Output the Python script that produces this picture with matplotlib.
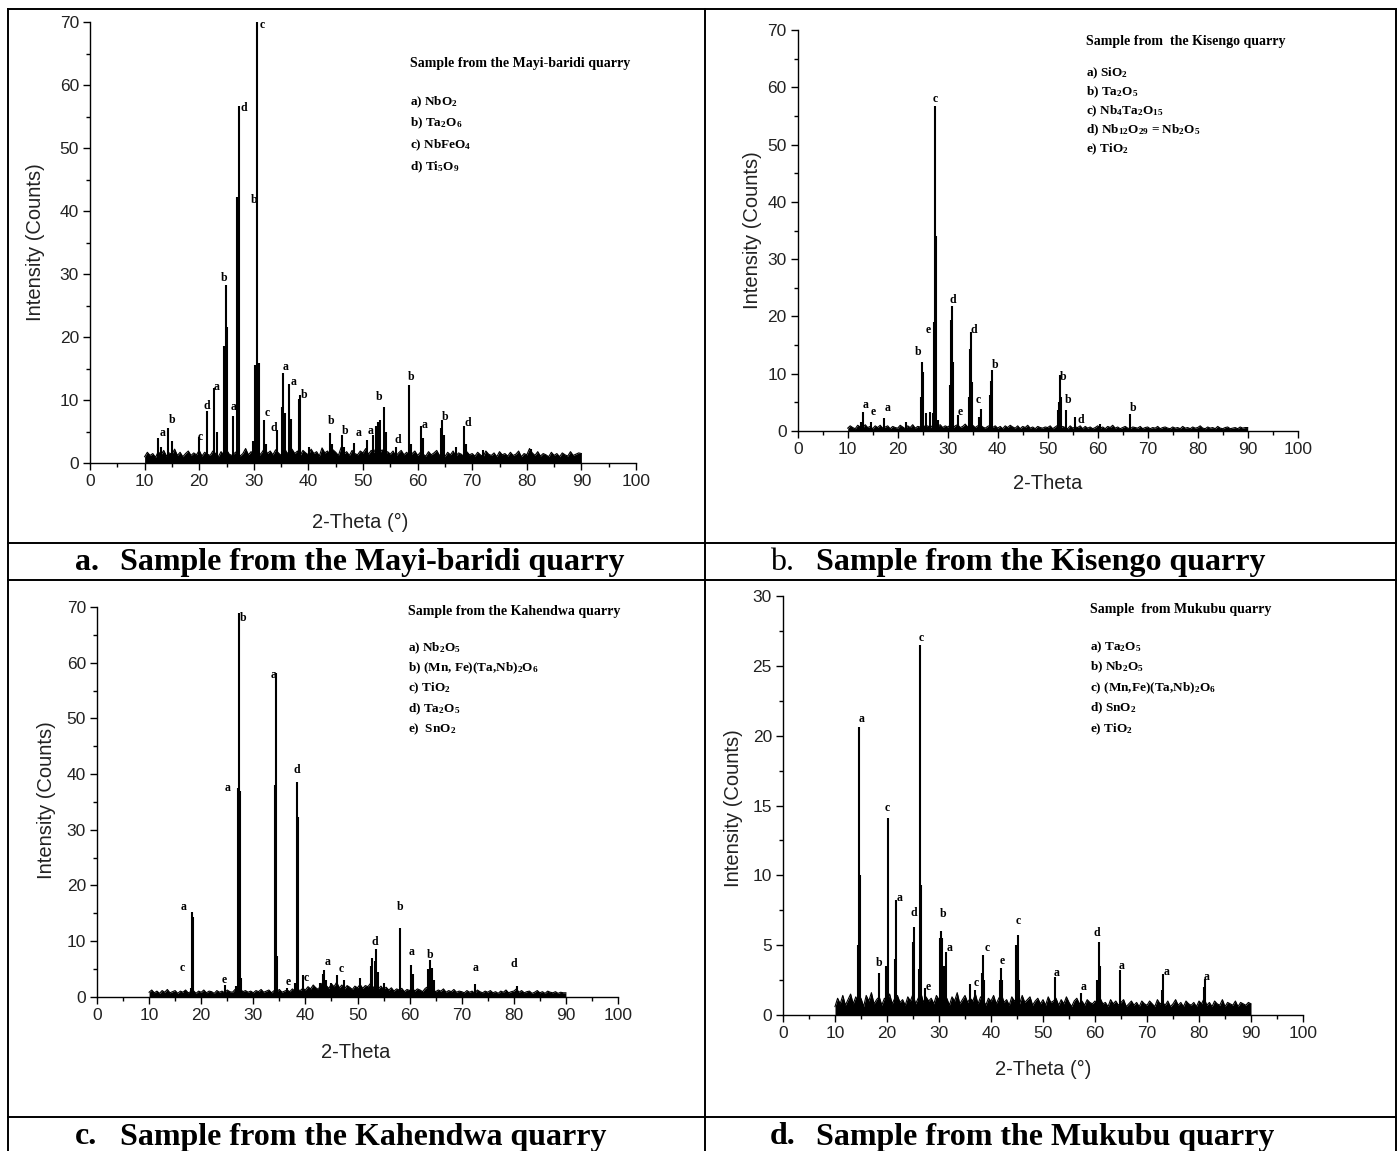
import matplotlib
matplotlib.use("Agg")
import matplotlib.pyplot as plt
from matplotlib.lines import Line2D
from matplotlib.ticker import MultipleLocator
import numpy as np

plt.rcParams['font.family'] = ['Liberation Sans', 'DejaVu Sans']
plt.rcParams['mathtext.fontset'] = 'custom'
plt.rcParams['mathtext.rm'] = 'Liberation Serif:bold'
plt.rcParams['mathtext.it'] = 'Liberation Serif:bold'
plt.rcParams['mathtext.bf'] = 'Liberation Serif:bold'

W, H = 1399, 1151

# ---------------- data ----------------
theta_bg = np.arange(10, 90.5, 0.5)   # background read every half degree, 10..90

# a. Mayi-baridi
bg_a = [1.0, 1.7, 1.2, 1.5, 0.9, 1.8, 1.3, 2.0, 1.1, 1.6, 1.4, 2.2, 1.2, 1.7, 1.0, 1.5, 1.9, 1.2, 1.6, 1.3,
        2.0, 1.1, 1.7, 1.4, 1.2, 1.9, 1.5, 1.0, 1.8, 1.3, 2.1, 1.4, 1.2, 1.6, 1.9, 1.1, 1.5, 2.3, 1.3, 1.8,
        1.4, 2.0, 1.2, 1.7, 2.4, 1.5, 1.9, 1.3, 2.1, 1.6, 1.2, 2.6, 1.7, 1.4, 2.2, 1.5, 1.9, 1.2, 2.0, 1.6,
        1.3, 2.2, 1.5, 1.8, 1.1, 2.4, 1.6, 1.9, 1.3, 2.1, 1.7, 1.2, 2.5, 1.4, 1.8, 1.2, 2.0, 1.5, 1.3, 1.9,
        1.6, 2.3, 1.4, 2.0, 1.7, 2.6, 1.5, 2.1, 1.2, 1.8, 1.4, 1.9, 1.1, 1.6, 2.0, 1.3, 1.7, 1.2, 1.5, 1.9,
        1.2, 1.7, 1.4, 1.1, 1.8, 1.3, 1.6, 2.0, 1.2, 1.5, 1.0, 1.7, 1.3, 1.9, 1.1, 1.6, 1.4, 1.0, 1.8, 1.3,
        1.5, 1.1, 1.7, 1.3, 1.0, 1.9, 1.4, 1.2, 1.6, 1.0, 1.8, 1.3, 1.5, 1.1, 1.7, 1.2, 1.4, 1.9, 1.0, 1.5,
        1.3, 2.3, 1.6, 1.2, 1.8, 1.1, 1.5, 1.3, 1.0, 1.7, 1.2, 1.5, 1.0, 1.6, 1.3, 1.1, 1.8, 1.2, 1.4, 1.6,
        1.5]
pk_a_x = [12.5, 13.0, 14.3, 15.1, 19.9, 21.4, 22.8, 23.2, 24.5, 24.9, 25.1, 26.2,
          27.0, 27.3, 29.9, 30.3, 30.5, 30.9, 31.8, 32.2, 34.3, 35.2, 35.4, 35.7,
          36.5, 36.8, 38.2, 38.4, 40.2, 43.9, 44.3, 46.2, 46.6, 48.3, 50.8, 51.8,
          52.3, 52.8, 53.2, 53.9, 54.3, 56.0, 58.5, 58.8, 60.7, 61.0, 64.2, 64.4,
          64.8, 67.0, 68.5, 68.8, 72.0, 80.8]
pk_a_y = [4.0, 2.5, 5.5, 3.5, 4.2, 8.3, 11.9, 5.0, 18.5, 28.3, 21.6, 7.4,
          42.3, 56.7, 3.5, 15.6, 70.0, 15.9, 6.8, 3.0, 5.2, 8.9, 14.3, 8.0,
          12.6, 7.0, 10.2, 10.8, 2.5, 4.7, 3.0, 4.4, 2.6, 3.2, 3.7, 4.5,
          5.9, 6.5, 6.9, 8.9, 5.0, 2.6, 12.4, 3.0, 5.8, 4.0, 5.5, 6.8,
          4.5, 2.5, 5.8, 3.0, 2.0, 2.3]
lab_a_x = [13.3, 15.0, 20.2, 21.4, 23.2, 24.6, 26.3, 28.1, 30.0, 31.6, 32.4, 33.6,
           35.9, 37.3, 39.3, 44.2, 46.8, 49.1, 51.3, 53.0, 56.4, 58.8, 61.3, 65.1, 69.2]
lab_a_y = [4.7, 6.8, 4.2, 9.0, 12.1, 29.3, 8.9, 56.3, 41.7, 69.5, 7.9, 5.5,
           15.3, 12.9, 10.8, 6.6, 5.0, 4.7, 5.0, 10.5, 3.7, 13.7, 6.0, 7.3, 6.4]
lab_a_t = list("abcdabadbccdaabbbaabdbabd")

# b. Kisengo
bg_b = [0.5, 0.9, 0.6, 0.4, 1.0, 0.7, 0.5, 1.1, 0.6, 0.8, 0.4, 0.9, 0.6, 1.0, 0.5, 0.7, 0.9, 0.4, 0.8, 0.6,
        0.5, 1.0, 0.7, 0.4, 0.9, 0.6, 1.1, 0.5, 0.8, 0.7, 1.2, 0.6, 0.9, 0.5, 1.0, 0.7, 0.8, 1.1, 0.6, 0.9,
        0.7, 1.0, 0.5, 0.9, 1.1, 0.6, 0.8, 1.2, 0.7, 0.5, 1.0, 0.6, 0.9, 1.1, 0.7, 0.5, 0.8, 1.0, 0.6, 0.9,
        0.5, 0.8, 0.4, 0.9, 0.6, 1.0, 0.7, 0.5, 0.9, 0.4, 0.8, 0.6, 1.0, 0.5, 0.7, 0.4, 0.8, 0.6, 0.5, 0.7,
        0.6, 0.9, 0.4, 0.7, 1.0, 0.5, 0.8, 0.6, 0.4, 0.9, 0.5, 0.7, 0.6, 0.9, 0.4, 0.8, 0.5, 0.7, 0.4, 0.6,
        0.9, 0.5, 0.7, 0.4, 0.8, 0.6, 1.0, 0.5, 0.7, 0.4, 0.6, 0.8, 0.5, 0.4, 0.7, 0.6, 0.5, 0.8, 0.4, 0.6,
        0.7, 0.4, 0.6, 0.5, 0.8, 0.4, 0.6, 0.7, 0.5, 0.4, 0.7, 0.5, 0.6, 0.4, 0.8, 0.5, 0.6, 0.4, 0.7, 0.5,
        0.6, 0.9, 0.5, 0.4, 0.7, 0.5, 0.6, 0.4, 0.8, 0.5, 0.4, 0.6, 0.7, 0.4, 0.5, 0.6, 0.4, 0.7, 0.5, 0.6,
        0.6]
pk_b_x = [12.6, 13.0, 14.7, 17.3, 21.6, 24.7, 24.9, 25.1, 25.6, 26.4, 27.0, 27.2,
          27.5, 27.7, 28.0, 30.4, 30.6, 30.8, 31.0, 32.0, 34.3, 34.5, 34.7, 34.9,
          36.3, 36.7, 38.4, 38.6, 38.8, 52.1, 52.3, 52.5, 52.7, 53.6, 55.5, 60.5, 66.5]
pk_b_y = [1.5, 3.4, 1.6, 2.2, 1.6, 6.0, 12.1, 10.3, 3.1, 3.4, 3.1, 19.0,
          56.8, 34.1, 2.0, 8.0, 19.3, 21.9, 12.1, 2.8, 6.0, 14.3, 17.3, 8.6,
          2.5, 3.9, 6.2, 8.8, 10.6, 3.6, 5.1, 9.8, 6.0, 3.7, 2.5, 1.2, 3.0]
lab_b_x = [13.5, 15.1, 17.9, 24.1, 26.0, 27.5, 31.1, 32.5, 35.3, 36.1, 39.5, 53.1, 54.1, 56.6, 67.1]
lab_b_y = [4.5, 3.4, 4.0, 13.8, 17.6, 57.9, 22.8, 3.4, 17.6, 5.4, 11.5, 9.5, 5.4, 1.9, 4.0]
lab_b_t = list("aeabecdedcbbbdb")

# c. Kahendwa
bg_c = [0.8, 1.2, 0.7, 1.0, 0.6, 1.1, 0.8, 1.3, 0.7, 0.9, 1.1, 0.6, 1.0, 0.8, 1.2, 0.7, 0.9, 1.1, 0.6, 1.0,
        0.8, 1.2, 0.7, 1.0, 0.9, 0.6, 1.1, 0.8, 1.0, 0.7, 1.2, 0.9, 0.8, 1.3, 1.0, 1.4, 0.9, 1.1, 0.8, 1.0,
        0.7, 1.1, 0.9, 1.3, 0.8, 1.0, 1.2, 0.7, 1.1, 0.9, 1.3, 0.8, 1.0, 1.2, 0.9, 1.4, 1.0, 1.3, 1.1, 1.5,
        1.2, 1.8, 1.4, 2.1, 1.6, 1.3, 2.4, 1.7, 2.0, 1.5, 2.3, 1.8, 2.6, 1.6, 2.1, 1.4, 2.0, 1.7, 1.3, 1.9,
        1.6, 2.2, 1.5, 2.0, 1.8, 2.4, 1.6, 2.1, 1.4, 1.9, 1.3, 1.7, 1.2, 1.6, 1.0, 1.4, 1.2, 1.5, 0.9, 1.3,
        1.1, 1.6, 1.0, 1.4, 1.2, 0.9, 1.5, 1.8, 1.1, 1.3, 0.9, 1.2, 1.0, 1.4, 0.8, 1.1, 0.9, 1.3, 0.8, 1.0,
        0.9, 0.7, 1.1, 0.8, 1.0, 0.6, 1.2, 0.9, 0.7, 1.0, 0.8, 1.1, 0.7, 0.9, 0.6, 1.0, 0.8, 1.2, 0.7, 0.9,
        1.0, 1.4, 0.8, 1.1, 0.7, 0.9, 1.0, 0.6, 0.8, 1.1, 0.7, 0.9, 0.6, 1.0, 0.8, 0.7, 0.9, 0.6, 0.8, 0.7,
        0.7]
pk_c_x = [16.8, 18.0, 18.2, 18.4, 24.6, 26.6, 27.0, 27.2, 27.4, 27.6, 34.2, 34.3,
          34.5, 36.4, 38.0, 38.4, 38.6, 39.6, 42.8, 43.4, 43.6, 44.0, 45.0, 46.0,
          47.4, 48.2, 50.5, 52.5, 52.8, 53.3, 53.6, 54.0, 55.0, 58.1, 60.3, 60.6,
          63.6, 63.9, 64.3, 64.7, 72.6, 80.6]
pk_c_y = [1.0, 1.5, 15.3, 14.3, 2.1, 2.0, 37.4, 68.9, 37.0, 3.3, 38.0, 58.1,
          7.4, 1.5, 2.5, 38.6, 32.3, 3.9, 2.5, 4.0, 4.8, 3.0, 2.5, 3.9,
          3.0, 2.0, 3.3, 5.5, 7.0, 6.5, 8.5, 4.5, 2.5, 12.3, 5.7, 4.0,
          5.0, 6.6, 5.2, 3.0, 2.3, 2.0]
lab_c_x = [16.3, 16.7, 24.4, 25.0, 28.0, 33.8, 36.7, 38.4, 40.2, 44.2, 46.8, 53.4,
           58.1, 60.3, 63.9, 72.7, 80.0]
lab_c_y = [5.1, 16.2, 3.0, 37.4, 68.0, 57.8, 2.7, 40.7, 3.3, 6.3, 5.0, 9.9,
           16.2, 8.1, 7.5, 5.1, 5.9]
lab_c_t = list("caeabaedcacdbabad")

# d. Mukubu
bg_d = [0.6, 1.2, 0.8, 1.4, 0.7, 1.1, 1.5, 0.8, 1.3, 0.9, 1.2, 0.6, 1.4, 1.0, 1.6, 0.8, 1.1, 1.3, 0.7, 1.2,
        1.0, 1.5, 0.8, 1.2, 1.4, 0.9, 1.1, 0.7, 1.3, 1.0, 1.5, 0.8, 1.2, 1.6, 0.9, 1.3, 1.0, 1.2, 0.8, 1.4,
        1.1, 1.5, 0.9, 1.2, 0.7, 1.3, 1.0, 1.6, 0.8, 1.1, 1.4, 0.9, 1.2, 1.0, 1.5, 0.8, 1.3, 1.1, 0.7, 1.2,
        1.0, 1.4, 0.8, 1.2, 1.5, 0.9, 1.1, 0.7, 1.3, 1.0, 1.2, 0.8, 1.4, 0.9, 1.1, 1.3, 0.7, 1.0, 1.2, 0.8,
        1.1, 0.7, 1.3, 0.9, 1.0, 1.2, 0.7, 1.1, 0.8, 1.3, 0.9, 0.6, 1.0, 1.2, 0.8, 1.0, 0.7, 1.1, 0.9, 0.8,
        1.0, 0.7, 1.2, 0.8, 0.9, 0.6, 1.1, 0.8, 1.0, 0.7, 0.9, 1.1, 0.6, 0.8, 1.0, 0.7, 0.9, 0.6, 1.0, 0.8,
        0.7, 1.0, 0.8, 0.6, 1.1, 0.8, 0.9, 0.7, 1.0, 0.6, 0.8, 1.1, 0.7, 0.9, 0.6, 1.0, 0.8, 0.7, 0.9, 0.6,
        1.0, 0.8, 1.2, 0.7, 0.9, 0.6, 1.0, 0.8, 0.7, 1.1, 0.6, 0.9, 0.8, 0.7, 1.0, 0.6, 0.9, 0.8, 0.7, 0.9,
        0.8]
pk_d_x = [14.5, 14.7, 14.9, 18.5, 19.9, 20.1, 21.5, 21.7, 25.0, 25.2, 26.2, 26.4,
          26.6, 27.3, 30.1, 30.3, 30.6, 30.9, 31.4, 35.9, 36.9, 38.3, 38.5, 38.7,
          41.8, 42.0, 42.2, 44.9, 45.1, 45.3, 52.3, 57.4, 60.4, 60.8, 61.0, 64.8,
          72.8, 73.1, 81.0, 81.2]
pk_d_y = [5.0, 20.6, 10.0, 3.0, 3.5, 14.1, 4.0, 8.2, 5.2, 6.3, 3.3, 26.5,
          9.3, 1.9, 5.5, 6.0, 5.5, 3.5, 4.5, 2.2, 1.8, 3.0, 4.3, 2.5,
          2.5, 3.4, 2.5, 5.0, 5.7, 2.5, 2.7, 1.6, 2.5, 5.2, 3.5, 3.2,
          1.8, 2.9, 2.0, 2.6]
lab_d_x = [15.1, 18.5, 20.1, 22.4, 25.1, 26.5, 27.9, 30.7, 32.1, 37.2, 39.2, 42.1,
           45.3, 52.7, 57.8, 60.3, 65.1, 73.8, 81.5]
lab_d_y = [21.2, 3.7, 14.8, 8.4, 7.3, 27.0, 2.0, 7.2, 4.8, 2.3, 4.8, 3.9,
           6.7, 3.0, 2.0, 5.9, 3.5, 3.1, 2.7]
lab_d_t = list("abcadcebacceca" + "adaaa")

titles = ["Sample from the Mayi-baridi quarry", "Sample from  the Kisengo quarry",
          "Sample from the Kahendwa quarry", "Sample  from Mukubu quarry"]
leg_a = ['a) NbO$_2$', 'b) Ta$_2$O$_6$', 'c) NbFeO$_4$', 'd) Ti$_5$O$_9$']
leg_b = ['a) SiO$_2$', 'b) Ta$_2$O$_5$', 'c) Nb$_4$Ta$_2$O$_{15}$',
         'd) Nb$_{12}$O$_{29}$ = Nb$_2$O$_5$', 'e) TiO$_2$']
leg_c = ['a) Nb$_2$O$_5$', 'b) (Mn, Fe)(Ta,Nb)$_2$O$_6$', 'c) TiO$_2$',
         'd) Ta$_2$O$_5$', 'e)  SnO$_2$']
leg_d = ['a) Ta$_2$O$_5$', 'b) Nb$_2$O$_5$', 'c) (Mn,Fe)(Ta,Nb)$_2$O$_6$',
         'd) SnO$_2$', 'e) TiO$_2$']
captions = [("a.", "Sample from the Mayi-baridi quarry"),
            ("b.", "Sample from the Kisengo quarry"),
            ("c.", "Sample from the Kahendwa quarry"),
            ("d.", "Sample from the Mukubu quarry")]

# ---------------- figure ----------------
fig = plt.figure(figsize=(W / 100, H / 100), dpi=100)


def axes_px(x0, x1, y0, y1):
    # x0/x1: pixel columns of x=0 and x=100, y0/y1: pixel rows of y=0 and y=top
    return fig.add_axes([x0 / W, 1 - y0 / H, (x1 - x0) / W, (y0 - y1) / H])


def draw_panel(ax, bg, px, py, lx, ly, lt, ymax, ystep, xlabel, ylab_pos, xlab_pos):
    ax.fill_between(theta_bg, 0, bg, color='black', lw=0)
    ax.plot(theta_bg, bg, color='black', lw=0.8)
    ax.vlines(px, 0, py, color='black', lw=1.5, clip_on=False)
    for x, y, t in zip(lx, ly, lt):
        ax.text(x, y, t, ha='center', va='center', fontsize=8.5,
                family='Liberation Serif', fontweight='bold')
    ax.set_xlim(0, 100)
    ax.set_ylim(0, ymax)
    ax.xaxis.set_major_locator(MultipleLocator(10))
    ax.xaxis.set_minor_locator(MultipleLocator(5))
    ax.yaxis.set_major_locator(MultipleLocator(ystep))
    ax.yaxis.set_minor_locator(MultipleLocator(ystep / 2))
    for s in ['top', 'right']:
        ax.spines[s].set_visible(False)
    for s in ['left', 'bottom']:
        ax.spines[s].set_linewidth(1.0)
    ax.tick_params(which='major', direction='out', length=5, width=1.0,
                   labelsize=12.5, pad=3, colors='black', labelcolor='#222222')
    ax.tick_params(which='minor', direction='out', length=3, width=1.0)
    ax.set_xlabel(xlabel, fontsize=14.5, color='#222222')
    ax.set_ylabel('Intensity (Counts)', fontsize=14.5, color='#222222')
    ax.xaxis.label.set_va('center')
    ax.yaxis.label.set_va('center')
    ax.xaxis.set_label_coords(*xlab_pos)
    ax.yaxis.set_label_coords(*ylab_pos)
    ax.patch.set_alpha(0)


ax_a = axes_px(90, 636, 463, 22)
draw_panel(ax_a, bg_a, pk_a_x, pk_a_y, lab_a_x, lab_a_y, lab_a_t, 70, 10,
           '2-Theta (°)', (-0.10, 0.5), (0.495, -0.134))
ax_b = axes_px(797.7, 1297.7, 431, 30)
draw_panel(ax_b, bg_b, pk_b_x, pk_b_y, lab_b_x, lab_b_y, lab_b_t, 70, 10,
           '2-Theta', (-0.091, 0.5), (0.499, -0.130))
ax_c = axes_px(97, 618, 996.7, 607)
draw_panel(ax_c, bg_c, pk_c_x, pk_c_y, lab_c_x, lab_c_y, lab_c_t, 70, 10,
           '2-Theta', (-0.096, 0.505), (0.497, -0.142))
ax_d = axes_px(783, 1303, 1015, 596)
draw_panel(ax_d, bg_d, pk_d_x, pk_d_y, lab_d_x, lab_d_y, lab_d_t, 30, 5,
           '2-Theta (°)', (-0.096, 0.494), (0.5, -0.129))

# in-plot phase lists
legend_layout = [(410, 64, 102, 21.7), (1086, 41, 73, 19.0),
                 (408, 612, 648, 20.3), (1090, 610, 647, 20.5)]
for title, entries, (lx, ty, ey, dy) in zip(titles, [leg_a, leg_b, leg_c, leg_d], legend_layout):
    fig.text(lx / W, 1 - ty / H, title, fontsize=10, family='Liberation Serif',
             fontweight='bold', va='center', ha='left')
    for i, e in enumerate(entries):
        fig.text(lx / W, 1 - (ey + i * dy) / H, e, fontsize=9.5, family='Liberation Serif',
                 fontweight='bold', va='center', ha='left')

# captions
cap_layout = [(75, 120, 563, 'bold'), (770, 816, 563, 'normal'),
              (75, 120, 1137, 'bold'), (770, 816, 1137, 'bold')]
for (lab, txt), (x0, x1, y, w) in zip(captions, cap_layout):
    fig.text(x0 / W, 1 - y / H, lab, fontsize=23, family='Liberation Serif',
             fontweight=w, va='center', ha='left')
    fig.text(x1 / W, 1 - y / H, txt, fontsize=23, family='Liberation Serif',
             fontweight='bold', va='center', ha='left')


# table rules
def hline(y, x0=8, x1=1396):
    fig.add_artist(Line2D([x0 / W, x1 / W], [1 - y / H, 1 - y / H], color='black', lw=1.4))


def vline(x, y0=9, y1=1151):
    fig.add_artist(Line2D([x / W, x / W], [1 - y0 / H, 1 - y1 / H], color='black', lw=1.4))


for y in [9, 543, 580, 1117]:
    hline(y)
for x in [8, 705, 1396]:
    vline(x)

fig.savefig('out.png', dpi=100)
